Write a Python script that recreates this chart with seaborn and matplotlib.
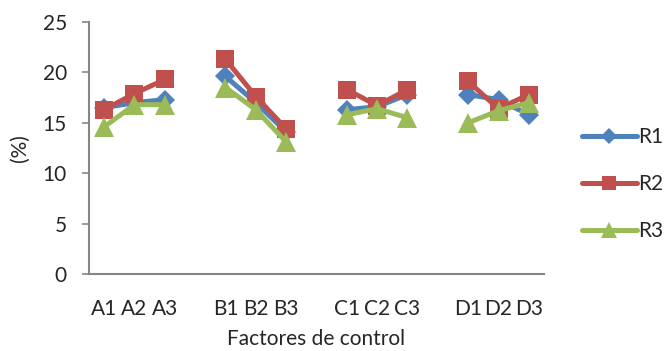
import numpy as np
import pandas as pd
import matplotlib
matplotlib.use("Agg")
import matplotlib.pyplot as plt
from matplotlib.lines import Line2D
import seaborn as sns

# Category axis: four factors with three levels each, a blank slot between factors
categories = ["A1", "A2", "A3", "", "B1", "B2", "B3", "", "C1", "C2", "C3", "", "D1", "D2", "D3"]
groups = [["A1", "A2", "A3"], ["B1", "B2", "B3"], ["C1", "C2", "C3"], ["D1", "D2", "D3"]]

# Response (%) per level, in the order A1..A3, B1..B3, C1..C3, D1..D3
r1 = [16.5, 17.0, 17.3, 19.6, 17.0, 14.1, 16.3, 16.6, 17.8, 17.8, 17.3, 15.8]
r2 = [16.3, 17.9, 19.3, 21.3, 17.6, 14.4, 18.3, 16.7, 18.3, 19.1, 16.4, 17.8]
r3 = [14.6, 16.8, 16.8, 18.5, 16.3, 13.1, 15.8, 16.4, 15.5, 15.0, 16.2, 17.0]

series_names = ["R1", "R2", "R3"]
series_values = [r1, r2, r3]
colors = {"R1": "#4F81BD", "R2": "#C0504D", "R3": "#9BBB59"}
markers = {"R1": "D", "R2": "s", "R3": "^"}
msizes = {"R1": 10, "R2": 12.5, "R3": 14}

levels = [lvl for g in groups for lvl in g]
rows = []
for name, vals in zip(series_names, series_values):
    for gi, g in enumerate(groups):
        for lvl in g:
            rows.append({"serie": name, "grupo": gi, "nivel": lvl,
                         "pos": categories.index(lvl),
                         "valor": vals[levels.index(lvl)]})
df = pd.DataFrame(rows)

sns.set_style("white")
plt.rcParams["font.family"] = ["Lato", "DejaVu Sans"]
FS = 15

fig = plt.figure(figsize=(6.67, 3.51), dpi=100)
ax = fig.add_axes([0.1334, 0.2194, 0.6822, 0.7179])

for name in series_names:
    for gi in range(len(groups)):
        sub = df[(df["serie"] == name) & (df["grupo"] == gi)]
        sns.lineplot(data=sub, x="pos", y="valor", ax=ax, color=colors[name],
                     linewidth=3.6, marker=markers[name], markersize=msizes[name],
                     markeredgewidth=0, legend=False, sort=False)

ax.set_xlim(-0.5, len(categories) - 0.5)
ax.set_ylim(0, 25)
ax.set_yticks(np.arange(0, 26, 5))
ax.set_xticks(range(len(categories)))
ax.set_xticklabels(categories)
ax.tick_params(axis="x", length=0, pad=18, labelsize=FS)
ax.tick_params(axis="y", length=5, width=1.2, color="#868686", pad=11, labelsize=FS)
ax.yaxis.set_ticks_position("left")

for side in ["top", "right"]:
    ax.spines[side].set_visible(False)
for side in ["left", "bottom"]:
    ax.spines[side].set_color("#868686")
    ax.spines[side].set_linewidth(1.5)

ax.set_xlabel("Factores de control", fontsize=FS, labelpad=7)
ax.set_ylabel("(%)", fontsize=FS, labelpad=9)

handles = [Line2D([], [], color=colors[n], marker=markers[n], markersize=msizes[n] * 0.85,
                  markeredgewidth=0, linewidth=3.6, solid_capstyle="round") for n in series_names]
fig.legend(handles, series_names, loc="center left", bbox_to_anchor=(0.872, 0.476),
           frameon=False, fontsize=FS, handlelength=2.65, handletextpad=0.05,
           labelspacing=1.3, borderaxespad=0, borderpad=0)

fig.savefig("out.png", dpi=100)
